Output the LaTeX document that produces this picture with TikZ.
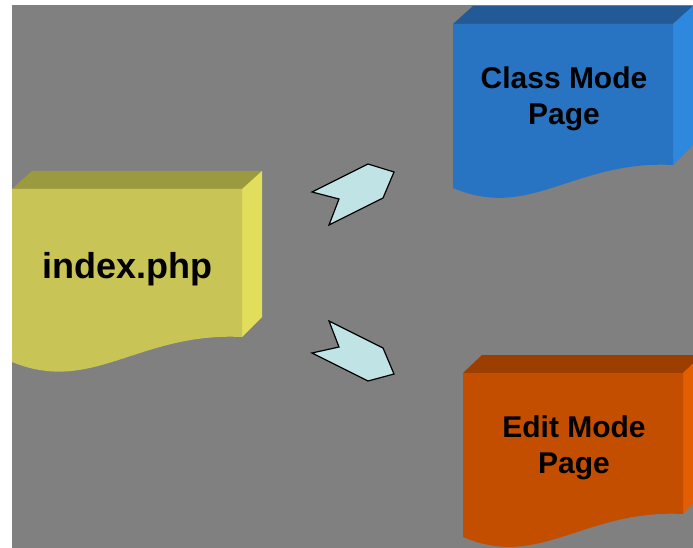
\documentclass[tikz,border=0pt]{standalone}
\usepackage{fontspec}
\setmainfont{Liberation Sans}
\definecolor{bggray}{RGB}{128,128,128}
\definecolor{yfront}{RGB}{200,196,85}
\definecolor{ytop}{RGB}{156,154,62}
\definecolor{yside}{RGB}{224,222,90}
\definecolor{bfront}{RGB}{41,116,194}
\definecolor{btop}{RGB}{35,90,150}
\definecolor{bside}{RGB}{46,136,221}
\definecolor{ofront}{RGB}{196,78,0}
\definecolor{otop}{RGB}{156,62,0}
\definecolor{oside}{RGB}{226,94,0}
\definecolor{arrowfill}{RGB}{192,228,230}
\tikzset{
  lbl/.style={inner sep=0pt, align=center, font=\bfseries\fontsize{30}{36}\selectfont},
  biglbl/.style={inner sep=0pt, font=\bfseries\fontsize{36}{43}\selectfont},
  flow/.style={draw=black, line width=1.2pt, line join=miter, fill=arrowfill}
}
\begin{document}
\begin{tikzpicture}[x=1pt,y=-1pt]
\useasboundingbox (0,0) rectangle (693,548);
\fill[bggray] (12,5) rectangle (693,548);
\begin{scope}
\clip (12,5) rectangle (693,548);
% index.php document
\fill[ytop] (12,189) -- (32,171) -- (262,171) -- (242,189) -- cycle;
\fill[yside] (242,189) -- (262,171) -- (262,317) -- (242,337) -- cycle;
\fill[yfront] (12,189) -- (242,189) -- (242,337) .. controls (138.5,332) and (92.5,395) .. (12,362) -- cycle;
% Class Mode Page document
\fill[btop] (453,24) -- (473,6) -- (693,6) -- (673,24) -- cycle;
\fill[bside] (673,24) -- (693,6) -- (693,145) -- (673,165) -- cycle;
\fill[bfront] (453,24) -- (673,24) -- (673,165) .. controls (574,160) and (530,221) .. (453,188) -- cycle;
% Edit Mode Page document
\fill[otop] (463,373) -- (482,355) -- (702,355) -- (683,373) -- cycle;
\fill[oside] (683,373) -- (702,355) -- (702,494) -- (683,514) -- cycle;
\fill[ofront] (463,373) -- (683,373) -- (683,514) .. controls (584,509) and (540,570) .. (463,537) -- cycle;
\end{scope}
% labels
\node[biglbl] (index) at (127.5,269) {index.php};
\node[lbl] (classpage) at (564,99) {Class Mode\\Page};
\node[lbl] (editpage) at (574,448) {Edit Mode\\Page};
% block arrows
\draw[flow] (312,192) -- (368,164) -- (394,172) -- (383,198) -- (329,225) -- (339,199) -- cycle;
\draw[flow] (312,353) -- (368,381) -- (394,374) -- (383,348) -- (329,321) -- (339,347) -- cycle;
\end{tikzpicture}
\end{document}
